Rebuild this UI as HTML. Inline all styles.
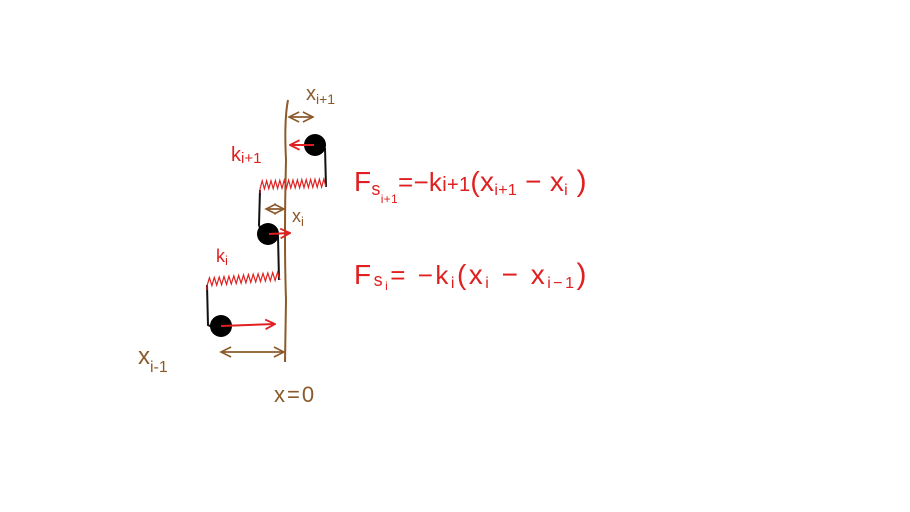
<!DOCTYPE html>
<html><head><meta charset="utf-8"><style>
html,body{margin:0;padding:0;background:#fff;width:910px;height:512px;overflow:hidden}
svg{display:block}
.b{fill:#8b5a2b;font-family:"Liberation Sans",sans-serif}
.r{fill:#e02020;font-family:"Liberation Sans",sans-serif}
</style></head><body>
<svg id="s" width="910" height="512" viewBox="0 0 910 512">
<defs>
<marker id="ar" viewBox="0 0 10 10" refX="9" refY="5" markerWidth="6" markerHeight="6" orient="auto-start-reverse"><path d="M1 1L9 5L1 9" fill="none" stroke="#e02020" stroke-width="1.5"/></marker>
<marker id="ab" viewBox="0 0 10 10" refX="9" refY="5" markerWidth="7" markerHeight="7" orient="auto-start-reverse"><path d="M1 1L9 5L1 9" fill="none" stroke="#8b5a2b" stroke-width="1.3"/></marker>
</defs>
<path d="M288 100 Q284 120 286 160 Q284 240 286 300 L285 362" stroke="#8b5a2b" stroke-width="2" fill="none"/>
<g stroke="#111" stroke-width="2" fill="none">
<path d="M325 148 L326 187"/>
<path d="M260 190 L259 225 L262 234"/>
<path d="M278 236 L279 280"/>
<path d="M207 285 L208 325 L214 328"/>
</g>
<path id="sp1" stroke="#e02020" stroke-width="1.2" fill="none"/>
<path id="sp2" stroke="#e02020" stroke-width="1.2" fill="none"/>
<circle cx="315" cy="145" r="11" fill="#000"/>
<circle cx="268" cy="234" r="11" fill="#000"/>
<circle cx="221" cy="326" r="11" fill="#000"/>
<g stroke="#e02020" stroke-width="2" fill="none">
<line x1="314" y1="145" x2="290" y2="145" marker-end="url(#ar)"/>
<line x1="269" y1="234" x2="290" y2="233" marker-end="url(#ar)"/>
<line x1="221" y1="326" x2="275" y2="324" marker-end="url(#ar)"/>
</g>
<g stroke="#8b5a2b" stroke-width="1.8" fill="none">
<line x1="289" y1="117" x2="313" y2="117" marker-start="url(#ab)" marker-end="url(#ab)"/>
<line x1="266" y1="209" x2="284" y2="209" marker-start="url(#ab)" marker-end="url(#ab)"/>
<line x1="221" y1="352" x2="284" y2="352" marker-start="url(#ab)" marker-end="url(#ab)"/>
</g>
<text class="b" x="306" y="100" font-size="20">x<tspan font-size="14" dy="4">i+1</tspan></text>
<text class="b" x="292" y="222" font-size="18">x<tspan font-size="13" dy="4">i</tspan></text>
<text class="b" x="138" y="364" font-size="24">x<tspan font-size="16" dy="8">i-1</tspan></text>
<text class="b" x="274" y="402" font-size="22" letter-spacing="2">x=0</text>
<text class="r" x="231" y="161" font-size="20">k<tspan font-size="15" dy="2">i+1</tspan></text>
<text class="r" x="216" y="262" font-size="18">k<tspan font-size="13" dy="3">i</tspan></text>
<text class="r" x="354" y="191" font-size="28" letter-spacing="0.3">F<tspan font-size="18" dy="4">s</tspan><tspan font-size="12" dy="8">i+1</tspan><tspan dy="-12" font-size="26">=−k</tspan><tspan font-size="20">i+1</tspan><tspan font-size="28">(x</tspan><tspan font-size="16" dy="4">i+1</tspan><tspan font-size="28" dy="-4"> − x</tspan><tspan font-size="16" dy="4">i</tspan><tspan font-size="30" dy="-4"> )</tspan></text>
<text class="r" x="354" y="284" font-size="28" letter-spacing="2.5">F<tspan font-size="18" dy="2">s</tspan><tspan font-size="12" dy="4">i</tspan><tspan dy="-6" font-size="26">= −k</tspan><tspan font-size="16" dy="4">i</tspan><tspan font-size="28" dy="-4">(x</tspan><tspan font-size="16" dy="4">i</tspan><tspan font-size="28" dy="-4"> − x</tspan><tspan font-size="16" dy="4">i−1</tspan><tspan font-size="30" dy="-4">)</tspan></text>
</svg>
<script>
function spring(x1,x2,y,n,tilt){var d="M"+x1+" "+(y+8);for(var i=0;i<=n;i++){var x=x1+(x2-x1)*i/n;var yy=y+tilt*(i/n)+(i%2?-4:4);d+=" L"+x.toFixed(1)+" "+yy.toFixed(1);}return d;}
document.getElementById('sp1').setAttribute('d',spring(260,326,185,30,-2));
document.getElementById('sp2').setAttribute('d',spring(207,280,282,30,-6));
</script>
</body></html>
